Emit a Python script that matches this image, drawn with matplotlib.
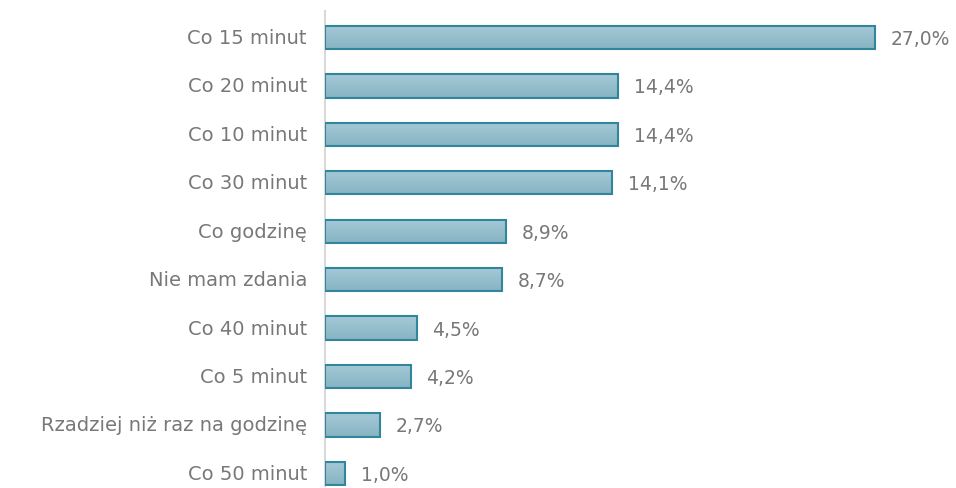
import numpy as np
import matplotlib
matplotlib.use('Agg')
from matplotlib import pyplot as plt

# data (top to bottom)
categories = ['Co 15 minut', 'Co 20 minut', 'Co 10 minut', 'Co 30 minut', 'Co godzinę',
              'Nie mam zdania', 'Co 40 minut', 'Co 5 minut', 'Rzadziej niż raz na godzinę',
              'Co 50 minut']
values = [27.0, 14.4, 14.4, 14.1, 8.9, 8.7, 4.5, 4.2, 2.7, 1.0]

text_color = '#787878'
edge_color = '#31859c'

plt.rcParams['font.family'] = ['DejaVu Sans']

W, H = 956, 489
fig = plt.figure(figsize=(W / 100, H / 100), dpi=100)
ax = fig.add_axes([325 / W, (H - 487) / H, (W - 325) / W, (487 - 12) / H])

pos = np.arange(len(categories))
bars = ax.barh(pos, values, height=0.48, facecolor='none', edgecolor=edge_color, linewidth=1.5, zorder=3)

# vertical gradient inside each bar (light on top, darker at bottom)
grad = np.linspace(0, 1, 64).reshape(-1, 1)
cmap = matplotlib.colors.LinearSegmentedColormap.from_list('g', ['#a6cad6', '#86b3c3'])
for b in bars:
    x0, y0 = b.get_x(), b.get_y()
    ax.imshow(grad, cmap=cmap, aspect='auto', interpolation='bilinear',
              extent=(x0, x0 + b.get_width(), y0 + b.get_height(), y0), zorder=2)

for p, v in zip(pos, values):
    ax.text(v + 0.75, p + 0.02, ('%.1f%%' % v).replace('.', ','), va='center', ha='left',
            fontsize=13.5, color=text_color)

ax.set_xlim(0, (W - 325) / (550 / 27.0))
ax.set_ylim(9.26, -0.547)
ax.set_yticks(pos)
ax.set_yticklabels(categories, fontsize=14, color=text_color, va='center')
ax.tick_params(axis='y', length=0, pad=13)
ax.set_xticks([])
for s in ['top', 'right', 'bottom']:
    ax.spines[s].set_visible(False)
ax.spines['left'].set_color('#d9d9d9')
ax.spines['left'].set_linewidth(1.5)

fig.savefig('out.png', dpi=100)
